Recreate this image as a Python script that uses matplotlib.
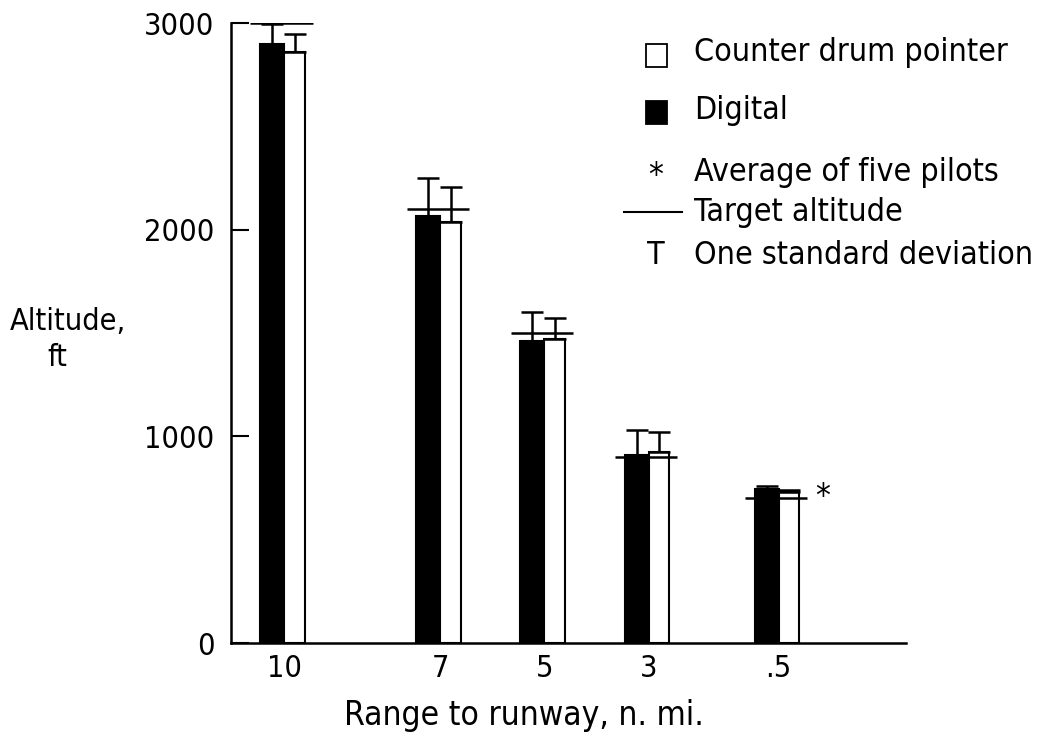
import matplotlib
matplotlib.use("Agg")
import matplotlib.pyplot as plt
from matplotlib.patches import Rectangle
from matplotlib.lines import Line2D

plt.rcParams['font.family'] = ['DejaVu Sans']
plt.rcParams['font.stretch'] = 'condensed'

# range to runway, n. mi.
ranges = [10, 7, 5, 3, 0.5]
range_labels = ["10", "7", "5", "3", ".5"]
target = [3000, 2100, 1500, 900, 700]
digital = [2900, 2065, 1460, 910, 745]
digital_sd = [95, 185, 140, 120, 15]
counter = [2860, 2040, 1470, 925, 730]
counter_sd = [90, 165, 105, 95, 10]
avg_mark = (-0.35, 705)  # asterisk next to the .5 group

fig = plt.figure(figsize=(10.41, 7.37), dpi=100)
ax = fig.add_axes([0.222, 0.1275, 0.648, 0.841])

wd = 0.46
wc = 0.40
# axis is reversed, so align='edge' with negative width puts digital on the left
ax.bar(ranges, digital, width=wd, align='edge', color='black', edgecolor='black', linewidth=1.5)
ax.bar(ranges, counter, width=-wc, align='edge', color='white', edgecolor='black', linewidth=1.5)

xd = [r + wd / 2 for r in ranges]
xc = [r - wc / 2 for r in ranges]
ax.errorbar(xd, digital, yerr=[[0] * 5, digital_sd], fmt='none', ecolor='black', elinewidth=1.8, capsize=8, capthick=1.8)
ax.errorbar(xc, counter, yerr=[[0] * 5, counter_sd], fmt='none', ecolor='black', elinewidth=1.8, capsize=8, capthick=1.8)

ax.hlines(target, [r + 0.65 for r in ranges], [r - 0.55 for r in ranges], colors='black', linewidth=1.8)
ax.text(avg_mark[0], avg_mark[1], "*", fontsize=24, ha='center', va='center')

ax.set_xlim(11.02, -1.94)
ax.set_ylim(0, 3000)
ax.set_xticks(ranges)
ax.set_xticklabels(range_labels)
ax.set_yticks([0, 1000, 2000, 3000])
ax.tick_params(axis='x', length=0, labelsize=22, pad=8)
ax.tick_params(axis='y', direction='in', length=13, width=1.5, labelsize=22, pad=12)
for s in ['top', 'right']:
    ax.spines[s].set_visible(False)
for s in ['left', 'bottom']:
    ax.spines[s].set_linewidth(1.8)

W, H = 1041.0, 737.0
fig.text(10 / W, 1 - 322 / H, "Altitude,", fontsize=22, ha='left', va='center')
fig.text(57 / W, 1 - 358 / H, "ft", fontsize=22, ha='center', va='center')
fig.text(524 / W, 1 - 715 / H, "Range to runway, n. mi.", fontsize=24, ha='center', va='center')

# legend
fig.patches.append(Rectangle((646 / W, 1 - 67 / H), 21 / W, 23 / H, transform=fig.transFigure,
                             facecolor='white', edgecolor='black', linewidth=1.3))
fig.patches.append(Rectangle((646 / W, 1 - 124 / H), 21 / W, 23 / H, transform=fig.transFigure,
                             facecolor='black', edgecolor='black', linewidth=1.3))
fig.text(656 / W, 1 - 176 / H, "*", fontsize=24, ha='center', va='center')
fig.lines.append(Line2D([624 / W, 682 / W], [1 - 212 / H, 1 - 212 / H], transform=fig.transFigure,
                        color='black', linewidth=1.5))
fig.text(656 / W, 1 - 255 / H, "T", fontsize=23, ha='center', va='center')
labels = ["Counter drum pointer", "Digital", "Average of five pilots", "Target altitude", "One standard deviation"]
ys = [53, 110, 172, 213, 255]
for lab, y in zip(labels, ys):
    fig.text(694 / W, 1 - y / H, lab, fontsize=23, ha='left', va='center')

plt.savefig("out.png", dpi=100)
